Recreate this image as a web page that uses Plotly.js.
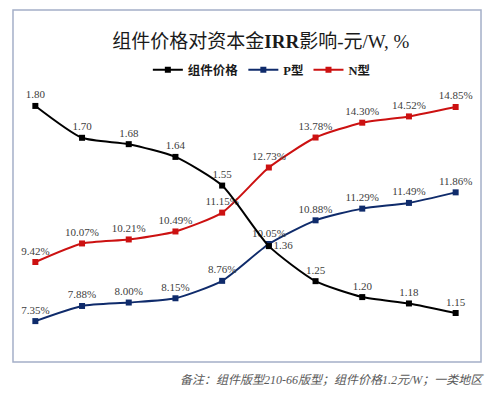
<!DOCTYPE html>
<html>
<head>
<meta charset="utf-8">
<script src="https://cdn.plot.ly/plotly-3.0.1.min.js"></script>
<style>html,body{margin:0;padding:0;background:#fff}#chart{width:492px;height:396px}</style>
</head>
<body>
<div id="chart"></div>
<script>
const categories = ['1','2','3','4','5','6','7','8','9','10'];
const priceValues = [1.80, 1.70, 1.68, 1.64, 1.55, 1.36, 1.25, 1.20, 1.18, 1.15];
const pTypeValues = [7.35, 7.88, 8.00, 8.15, 8.76, 10.05, 10.88, 11.29, 11.49, 11.86];
const nTypeValues = [9.42, 10.07, 10.21, 10.49, 11.15, 12.73, 13.78, 14.30, 14.52, 14.85];
const seriesNames = ['<b>组件价格</b>', '<b>P型</b>', '<b>N型</b>'];

const serif = 'Liberation Serif, Noto Sans CJK SC, serif';
const labelFont = {family: serif, size: 11, color: '#404040'};

const priceText = priceValues.map(v => v.toFixed(2));
const pText = pTypeValues.map(v => v.toFixed(2) + '%');
const nText = nTypeValues.map(v => v.toFixed(2) + '%');

const pricePos = priceValues.map((v, i) => i === 5 ? 'middle right' : 'top center');

const traces = [
  {
    x: categories, y: priceValues, name: seriesNames[0], yaxis: 'y2',
    type: 'scatter', mode: 'lines+markers+text',
    line: {color: '#000000', width: 2, shape: 'spline', smoothing: 0.6},
    marker: {symbol: 'square', size: 6, color: '#000000'},
    text: priceText, textposition: pricePos, textfont: labelFont,
    cliponaxis: false, hoverinfo: 'none'
  },
  {
    x: categories, y: pTypeValues, name: seriesNames[1],
    type: 'scatter', mode: 'lines+markers+text',
    line: {color: '#0f2b6b', width: 2, shape: 'spline', smoothing: 0.6},
    marker: {symbol: 'square', size: 6, color: '#0f2b6b'},
    text: pText, textposition: 'top center', textfont: labelFont,
    cliponaxis: false, hoverinfo: 'none'
  },
  {
    x: categories, y: nTypeValues, name: seriesNames[2],
    type: 'scatter', mode: 'lines+markers+text',
    line: {color: '#cc1111', width: 2, shape: 'spline', smoothing: 0.6},
    marker: {symbol: 'square', size: 6, color: '#cc1111'},
    text: nText, textposition: 'top center', textfont: labelFont,
    cliponaxis: false, hoverinfo: 'none'
  }
];

const layout = {
  width: 492, height: 396,
  margin: {l: 12, r: 13, t: 90, b: 56},
  paper_bgcolor: '#ffffff', plot_bgcolor: 'rgba(0,0,0,0)',
  showlegend: true,
  title: {
    text: '组件价格对资本金<b>IRR</b>影响-元/W, %',
    font: {family: serif, size: 19, color: '#1a1a1a'},
    x: 0.53, xanchor: 'center', y: 0.895, yanchor: 'middle'
  },
  legend: {
    orientation: 'h', x: 0.535, xanchor: 'center', y: 1.08, yanchor: 'middle',
    font: {family: serif, size: 12.5, color: '#1a1a1a'},
    itemwidth: 30, tracegroupgap: 0, itemclick: false
  },
  xaxis: {
    type: 'category', range: [-0.5, 9.5],
    showgrid: false, zeroline: false, showline: false, showticklabels: false, ticks: ''
  },
  yaxis: {
    range: [6.688, 15.445],
    showgrid: false, zeroline: false, showline: false, showticklabels: false, ticks: ''
  },
  yaxis2: {
    overlaying: 'y', side: 'right', range: [1.0653, 1.850],
    showgrid: false, zeroline: false, showline: false, showticklabels: false, ticks: ''
  },
  shapes: [{
    type: 'rect', xref: 'paper', yref: 'paper',
    x0: 0.00214, x1: 1.0043, y0: -0.088, y1: 1.32,
    line: {color: '#a4afc8', width: 1.5}, fillcolor: 'rgba(0,0,0,0)', layer: 'below'
  }],
  annotations: [{
    text: '<i>备注：组件版型210-66版型；组件价格1.2元/W；一类地区</i>',
    xref: 'paper', yref: 'paper', x: 1.015, y: -0.16, xanchor: 'right', yanchor: 'middle',
    showarrow: false,
    font: {family: serif, size: 12, color: '#595959'}
  }]
};

Plotly.newPlot('chart', traces, layout, {displayModeBar: false, staticPlot: true});
</script>
</body>
</html>
